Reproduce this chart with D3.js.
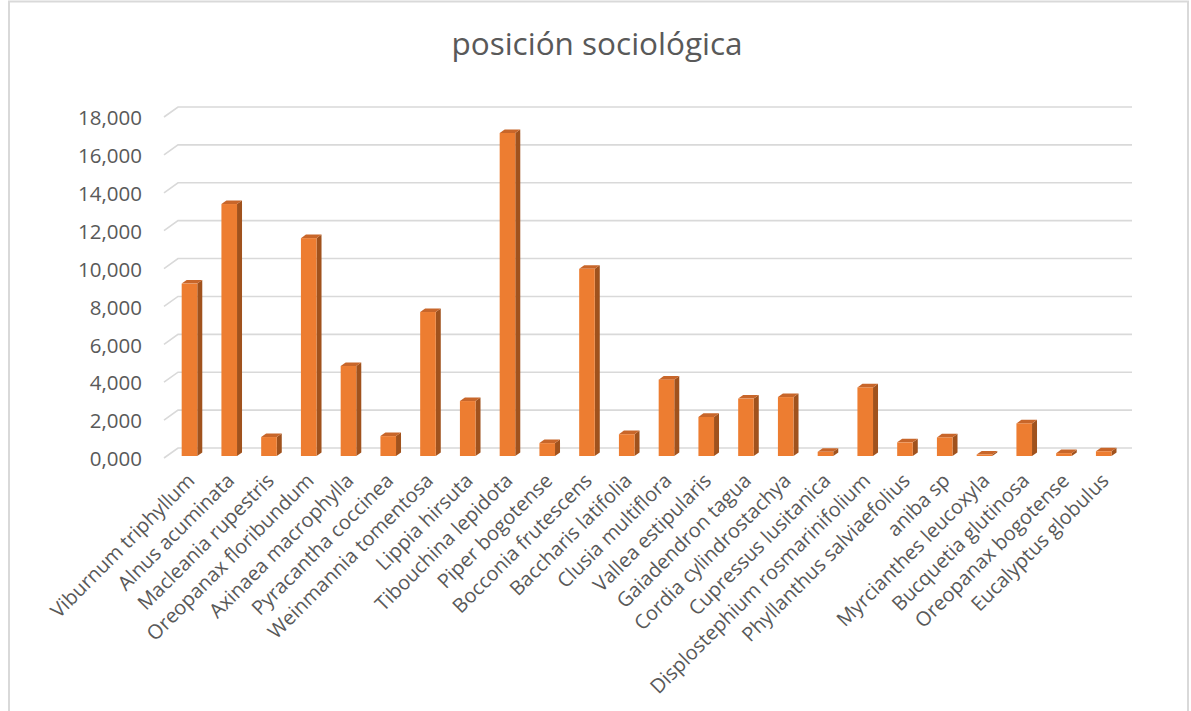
<!DOCTYPE html>
<html>
<head>
<meta charset="utf-8">
<script src="https://cdn.jsdelivr.net/npm/d3@7"></script>
<style>
  html, body { margin: 0; padding: 0; background: #fff; }
  svg { display: block; }
</style>
</head>
<body>
<svg id="chart" width="1191" height="711"></svg>
<script>
const title = "posición sociológica";
const categories = [
  "Viburnum triphyllum", "Alnus acuminata", "Macleania rupestris", "Oreopanax floribundum",
  "Axinaea macrophylla", "Pyracantha coccinea", "Weinmannia tomentosa", "Lippia hirsuta",
  "Tibouchina lepidota", "Piper bogotense", "Bocconia frutescens", "Baccharis latifolia",
  "Clusia multiflora", "Vallea estipularis", "Gaiadendron tagua", "Cordia cylindrostachya",
  "Cupressus lusitanica", "Displostephium rosmarinifolium", "Phyllanthus salviaefolius", "aniba sp",
  "Myrcianthes leucoxyla", "Bucquetia glutinosa", "Oreopanax bogotense", "Eucalyptus globulus"
];
const values = [
  9100, 13300, 1000, 11500,
  4750, 1050, 7600, 2900,
  17050, 680, 9880, 1150,
  4030, 2060, 3030, 3110,
  220, 3620, 720, 980,
  80, 1720, 150, 250
];
const yTicks = [0, 2000, 4000, 6000, 8000, 10000, 12000, 14000, 16000, 18000];
const yTickLabels = ["0,000", "2,000", "4,000", "6,000", "8,000", "10,000", "12,000", "14,000", "16,000", "18,000"];

const svg = d3.select("#chart");

// chart border
svg.append("rect").attr("x", 9).attr("y", 1.5).attr("width", 1179).attr("height", 720)
  .attr("fill", "#fff").attr("stroke", "#d9d9d9").attr("stroke-width", 2);

// title
svg.append("text").attr("x", 597).attr("y", 55).attr("text-anchor", "middle")
  .attr("font-family", "Open Sans, sans-serif").attr("font-size", 31.5)
  .attr("fill", "#595959").text(title);

// geometry
const backLeft = 178, backRight = 1132;
const depthDx = 14, depthDy = 10; // offset from front to back plane
const x = d3.scaleBand().domain(categories).range([backLeft, backRight]).padding(0);
const yBack = d3.scaleLinear().domain([0, 18000]).range([448, 107]);
const yFront = d3.scaleLinear().domain([0, 18000]).range([456, 115]);

// gridlines (back wall + floor-side slant)
const grid = svg.append("g");
yTicks.forEach(t => {
  const yb = yBack(t);
  grid.append("path")
    .attr("d", `M${backLeft - depthDx},${yb + depthDy} L${backLeft},${yb} L${backRight},${yb}`)
    .attr("fill", "none").attr("stroke", "#d9d9d9").attr("stroke-width", 1.6);
});

// y axis labels
svg.append("g").selectAll("text").data(yTicks).join("text")
  .attr("x", 142).attr("y", d => yBack(d) + depthDy + 1)
  .attr("dy", "0.35em").attr("text-anchor", "end")
  .attr("font-family", "Open Sans, sans-serif").attr("font-size", 20.5)
  .attr("fill", "#595959")
  .text((d, i) => yTickLabels[i]);

// bars (pseudo-3D)
const faceW = 15.6, sideDx = 5, sideDy = 3.6;
const bars = svg.append("g").selectAll("g").data(categories).join("g");
bars.each(function(c, i) {
  const g = d3.select(this);
  const x0 = x(c) + x.bandwidth() / 2 - 16.2;
  const y0 = yFront(0), y1 = yFront(values[i]);
  g.append("path")
    .attr("d", `M${x0 + faceW},${y1} L${x0 + faceW + sideDx},${y1 - sideDy} L${x0 + faceW + sideDx},${y0 - sideDy} L${x0 + faceW},${y0} Z`)
    .attr("fill", "#a0521d");
  g.append("path")
    .attr("d", `M${x0},${y1} L${x0 + sideDx},${y1 - sideDy} L${x0 + faceW + sideDx},${y1 - sideDy} L${x0 + faceW},${y1} Z`)
    .attr("fill", "#c8662a");
  g.append("rect").attr("x", x0).attr("y", y1).attr("width", faceW).attr("height", Math.max(0, y0 - y1))
    .attr("fill", "#ed7d31");
});

// category labels
svg.append("g").selectAll("text").data(categories).join("text")
  .attr("transform", c => `translate(${x(c) + x.bandwidth() / 2 - 7},${477}) rotate(-45)`)
  .attr("text-anchor", "end").attr("dy", "0.35em")
  .attr("font-family", "Open Sans, sans-serif").attr("font-size", 20)
  .attr("fill", "#595959")
  .text(c => c);
</script>
</body>
</html>
